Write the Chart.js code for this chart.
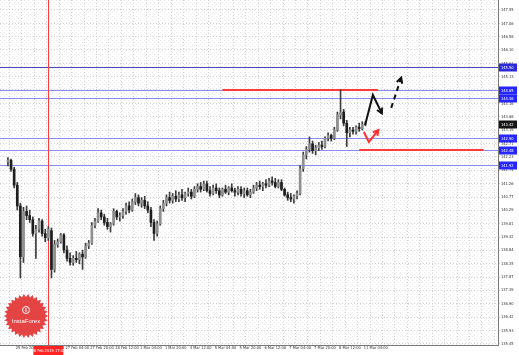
<!DOCTYPE html>
<html>
<head>
<meta charset="utf-8">
<script src="https://cdn.jsdelivr.net/npm/chart.js@4.4.1/dist/chart.umd.min.js"></script>
<style>
  html, body { margin: 0; padding: 0; background: #fff; }
  #wrap { width: 519px; height: 355px; }
</style>
</head>
<body>
<div id="wrap"><canvas id="chart" width="519" height="355"></canvas></div>
<script>
// candles, one per index (oldest first)
const opens = [142.05,142.10,141.78,141.20,140.45,138.60,140.25,140.10,139.95,139.45,
  139.60,139.90,139.45,139.30,139.55,138.15,139.05,139.15,139.40,138.85,
  138.55,138.40,138.55,138.50,138.70,138.60,139.00,139.10,139.75,139.90,
  140.20,140.05,139.85,139.70,139.80,140.25,140.05,140.10,140.25,140.45,
  140.30,140.60,140.75,140.55,140.65,140.45,140.30,139.85,139.45,139.80,
  140.35,140.55,140.75,140.65,140.80,140.70,140.85,140.75,140.90,140.95,
  140.80,141.05,141.15,141.05,141.25,141.00,140.90,141.10,141.00,140.85,
  141.05,140.95,141.10,141.00,140.95,141.05,140.90,141.00,140.85,140.95,
  141.10,141.20,141.15,141.25,141.20,141.35,141.30,141.15,141.30,141.05,
  140.85,140.75,140.70,140.80,140.90,141.80,142.30,142.50,142.70,142.45,
  142.55,142.65,142.60,142.90,143.00,142.90,143.20,143.75,143.85,143.45,
  143.10,143.20,143.15,143.30,143.25,143.40];
const highs = [142.20,142.15,141.85,141.30,140.55,140.40,140.45,140.30,140.05,139.75,
  140.00,139.95,139.60,139.70,139.65,139.20,139.25,139.45,139.45,139.00,
  138.75,138.65,138.80,138.75,138.85,139.10,139.20,139.85,140.00,140.35,
  140.30,140.15,140.00,139.85,140.35,140.30,140.20,140.35,140.55,140.60,
  140.70,140.90,140.85,140.75,140.80,140.60,140.40,139.95,139.90,140.45,
  140.65,140.85,140.95,140.90,141.00,140.95,141.05,140.95,141.10,141.05,
  141.15,141.25,141.30,141.35,141.35,141.15,141.20,141.25,141.10,141.10,
  141.20,141.15,141.25,141.10,141.15,141.15,141.10,141.10,141.05,141.20,
  141.30,141.35,141.30,141.40,141.45,141.50,141.45,141.40,141.40,141.10,
  140.95,140.90,140.85,141.00,141.90,142.40,142.60,142.95,142.80,142.65,
  142.75,142.80,142.95,143.10,143.05,143.30,143.85,144.65,143.95,143.55,
  143.30,143.30,143.35,143.45,143.50,143.50];
const lows = [141.90,141.70,141.10,140.30,137.84,138.40,139.95,139.85,139.35,138.55,
  139.50,139.35,139.15,139.20,137.84,138.05,138.95,139.10,138.75,138.45,
  138.30,138.30,138.40,138.35,138.15,138.55,138.90,139.05,139.65,139.85,
  139.95,139.75,139.60,139.50,139.75,139.95,139.90,140.00,140.15,140.20,
  140.25,140.50,140.45,140.40,140.35,140.20,139.70,139.20,139.35,139.75,
  140.25,140.45,140.55,140.55,140.60,140.60,140.65,140.60,140.80,140.70,
  140.75,140.95,140.95,141.00,140.95,140.80,140.85,140.90,140.75,140.80,
  140.90,140.85,140.95,140.80,140.85,140.80,140.75,140.80,140.75,140.90,
  141.00,141.05,141.00,141.10,141.15,141.20,141.10,141.10,141.00,140.80,
  140.65,140.60,140.55,140.70,140.85,141.70,142.15,142.40,142.35,142.30,
  142.45,142.50,142.55,142.80,142.80,142.85,143.15,143.60,143.35,142.60,
  142.95,143.05,143.05,143.15,143.20,143.35];
const closes = [142.10,141.78,141.20,140.45,138.60,140.25,140.10,139.95,139.45,139.60,
  139.90,139.45,139.30,139.60,138.15,139.05,139.15,139.40,138.85,138.55,
  138.40,138.55,138.50,138.70,138.60,139.00,139.10,139.75,139.90,140.20,
  140.05,139.85,139.70,139.80,140.25,140.05,140.10,140.25,140.45,140.30,
  140.60,140.75,140.55,140.65,140.45,140.30,139.85,139.45,139.80,140.35,
  140.55,140.75,140.65,140.80,140.70,140.85,140.75,140.90,140.95,140.80,
  141.05,141.15,141.05,141.25,141.00,140.90,141.10,141.00,140.85,141.05,
  140.95,141.10,141.00,140.95,141.05,140.90,141.00,140.85,140.95,141.10,
  141.20,141.15,141.25,141.20,141.35,141.30,141.15,141.30,141.05,140.85,
  140.75,140.70,140.80,140.90,141.80,142.30,142.50,142.70,142.45,142.55,
  142.65,142.60,142.90,143.00,142.90,143.20,143.75,143.85,143.45,143.10,
  143.20,143.15,143.30,143.25,143.40,143.42];

// axis labels
const xTickText = ['25 Feb 20:00','26 Feb 12:00','27 Feb 04:00','27 Feb 20:00','28 Feb 12:00',
  '1 Mar 04:00','1 Mar 20:00','4 Mar 12:00','5 Mar 04:00','5 Mar 20:00','6 Mar 12:00',
  '7 Mar 04:00','7 Mar 20:00','8 Mar 12:00','11 Mar 04:00'];
const yTicks = [135.45,135.93,136.42,136.90,137.39,137.87,138.35,138.84,139.32,139.81,
  140.29,140.77,141.26,141.74,142.23,142.71,143.19,143.68,144.16,144.65,
  145.13,145.61,146.10,146.58,147.06,147.55];

// drawn objects on the chart
const levels = [145.50, 144.65, 144.36, 142.90, 142.48, 141.92];
const redLevels = [144.65, 142.48];
const redFrom = [69, 113];
const redTo = [119, 153];
const vLineIdx = 13;
const vLineText = '26 Feb 2019 17:00';
const lastPrice = 143.42;
const arrowSolid = { x: [114.9, 117.4, 120.3], y: [143.38, 144.47, 143.80] };
const arrowDash = { x: [123.3, 126.5], y: [144.00, 145.09] };
const arrowRed = { x: [114.5, 116.1, 119.2], y: [143.13, 142.77, 143.20] };

const xMin = -0.5, xMax = 155.6;
const xTickPos = [];
for (let v = 2.5; v < xMax; v += 4) xTickPos.push(v);

const FONT = '"Liberation Sans Narrow", "DejaVu Sans Condensed", "Liberation Sans", sans-serif';
const FSIZE = 4;

function arrowPath(ctx, xs, ys, sx, sy, dash) {
  const px = xs.map(v => sx.getPixelForValue(v));
  const py = ys.map(v => sy.getPixelForValue(v));
  ctx.setLineDash(dash || []);
  ctx.beginPath();
  ctx.moveTo(px[0], py[0]);
  for (let i = 1; i < px.length; i++) ctx.lineTo(px[i], py[i]);
  ctx.stroke();
  ctx.setLineDash([]);
  // arrow head from the last segment
  const n = px.length - 1;
  const ang = Math.atan2(py[n] - py[n - 1], px[n] - px[n - 1]);
  ctx.beginPath();
  ctx.moveTo(px[n] - 6 * Math.cos(ang - 0.5), py[n] - 6 * Math.sin(ang - 0.5));
  ctx.lineTo(px[n], py[n]);
  ctx.lineTo(px[n] - 6 * Math.cos(ang + 0.5), py[n] - 6 * Math.sin(ang + 0.5));
  ctx.stroke();
}

function priceBox(ctx, a, py, bg, text) {
  ctx.fillStyle = bg;
  ctx.fillRect(a.right + 1, py - 4, 18, 8);
  ctx.fillStyle = '#fff';
  ctx.font = FSIZE + 'px ' + FONT;
  ctx.textAlign = 'left';
  ctx.textBaseline = 'middle';
  ctx.fillText(text, a.right + 3, py + 0.5);
}

// dotted texture behind the plot
const tex = document.createElement('canvas');
tex.width = 4; tex.height = 4;
const tctx = tex.getContext('2d');
tctx.fillStyle = '#ffffff';
tctx.fillRect(0, 0, 4, 4);
tctx.fillStyle = '#ececec';
tctx.fillRect(0, 0, 1, 1);
tctx.fillRect(2, 2, 1, 1);

const overlay = {
  id: 'overlay',
  beforeDraw(chart) {
    const { ctx, chartArea: a } = chart;
    ctx.save();
    ctx.fillStyle = '#fff';
    ctx.fillRect(0, 0, chart.width, chart.height);
    ctx.fillStyle = ctx.createPattern(tex, 'repeat');
    ctx.fillRect(a.left, a.top, a.right - a.left, a.bottom - a.top);
    ctx.restore();
  },
  beforeDatasetsDraw(chart) {
    const { ctx, chartArea: a, scales: { x, y } } = chart;
    ctx.save();
    ctx.lineWidth = 1;
    levels.forEach((v, i) => {
      const py = Math.round(y.getPixelForValue(v)) + 0.5;
      ctx.strokeStyle = i === 0 ? '#4747b5' : '#8a8af2';
      ctx.beginPath();
      ctx.moveTo(a.left, py);
      ctx.lineTo(a.right, py);
      ctx.stroke();
    });
    const vx = Math.round(x.getPixelForValue(vLineIdx)) + 0.5;
    ctx.strokeStyle = '#ff3b3b';
    ctx.beginPath();
    ctx.moveTo(vx, a.top);
    ctx.lineTo(vx, a.bottom);
    ctx.stroke();
    ctx.lineWidth = 2;
    redLevels.forEach((v, i) => {
      const py = Math.round(y.getPixelForValue(v));
      ctx.beginPath();
      ctx.moveTo(x.getPixelForValue(redFrom[i]), py);
      ctx.lineTo(x.getPixelForValue(redTo[i]), py);
      ctx.stroke();
    });
    ctx.restore();
  },
  afterDraw(chart) {
    const { ctx, chartArea: a, scales: { x, y } } = chart;
    ctx.save();
    // forecast arrows
    ctx.lineWidth = 2;
    ctx.strokeStyle = '#111';
    arrowPath(ctx, arrowSolid.x, arrowSolid.y, x, y);
    arrowPath(ctx, arrowDash.x, arrowDash.y, x, y, [5, 4]);
    ctx.strokeStyle = '#ff3030';
    arrowPath(ctx, arrowRed.x, arrowRed.y, x, y);

    // price labels on the right axis
    levels.forEach((v, i) => {
      priceBox(ctx, a, Math.round(y.getPixelForValue(v)) + 0.5, i === 0 ? '#2b2bd9' : '#2626ff', v.toFixed(2));
    });
    priceBox(ctx, a, Math.round(y.getPixelForValue(lastPrice)) + 0.5, '#151515', lastPrice.toFixed(2));

    // date label of the vertical line
    const vx = x.getPixelForValue(vLineIdx);
    ctx.fillStyle = '#ff2424';
    ctx.fillRect(vx - 15, a.bottom + 1, 30, 9);
    ctx.fillStyle = '#fff';
    ctx.font = FSIZE + 'px ' + FONT;
    ctx.textAlign = 'center';
    ctx.textBaseline = 'middle';
    ctx.fillText(vLineText, vx, a.bottom + 5.5);

    // logo badge
    const cx = 26, cy = 316, r = 22, n = 30;
    ctx.beginPath();
    for (let i = 0; i < n * 2; i++) {
      const ang = i * Math.PI / n;
      const rr = i % 2 ? r - 3 : r;
      ctx.lineTo(cx + rr * Math.cos(ang), cy + rr * Math.sin(ang));
    }
    ctx.closePath();
    ctx.fillStyle = 'rgba(226,48,48,0.9)';
    ctx.fill();
    ctx.strokeStyle = '#fff';
    ctx.lineWidth = 1;
    ctx.beginPath();
    ctx.arc(cx, cy - 6, 3.5, 0, Math.PI * 2);
    ctx.stroke();
    ctx.fillStyle = '#fff';
    ctx.fillRect(cx - 0.5, cy - 8, 1, 4);
    ctx.font = '6px "Liberation Sans", sans-serif';
    ctx.textAlign = 'center';
    ctx.textBaseline = 'middle';
    ctx.fillText('InstaForex', cx, cy + 5);
    ctx.restore();
  }
};

const idx = opens.map((o, i) => i);

new Chart(document.getElementById('chart').getContext('2d'), {
  type: 'bar',
  data: {
    datasets: [
      {
        label: 'wick',
        data: idx.map(i => ({ x: i, y: [lows[i], highs[i]] })),
        backgroundColor: '#3c3c3c',
        barThickness: 1,
        grouped: false,
        order: 2
      },
      {
        label: 'body',
        data: idx.map(i => ({ x: i, y: [Math.min(opens[i], closes[i]), Math.max(opens[i], closes[i])] })),
        backgroundColor: ctx => closes[ctx.dataIndex] >= opens[ctx.dataIndex] ? '#8f8f8f' : '#1e1e1e',
        barThickness: 2,
        minBarLength: 1,
        grouped: false,
        order: 1
      }
    ]
  },
  options: {
    responsive: false,
    animation: false,
    events: [],
    layout: { padding: 0 },
    plugins: { legend: { display: false }, tooltip: { enabled: false } },
    scales: {
      x: {
        type: 'linear',
        min: xMin,
        max: xMax,
        afterBuildTicks: s => { s.ticks = xTickPos.map(v => ({ value: v })); },
        afterFit: s => { s.height = 10; s.paddingLeft = 0; s.paddingRight = 0; },
        ticks: {
          autoSkip: false,
          maxRotation: 0,
          align: 'start',
          padding: 1,
          color: '#333',
          font: { family: FONT, size: FSIZE },
          callback: (v, i) => (i % 2 === 0 && xTickText[i / 2]) ? xTickText[i / 2] : ''
        },
        grid: { color: '#d4d4d4', drawTicks: false },
        border: { color: '#7a7a7a', dash: [1, 2] }
      },
      y: {
        position: 'right',
        min: 135.41,
        max: 147.91,
        afterBuildTicks: s => { s.ticks = yTicks.map(v => ({ value: v })); },
        afterFit: s => { s.width = 21; s.paddingTop = 0; s.paddingBottom = 0; },
        ticks: {
          autoSkip: false,
          padding: 1,
          color: '#333',
          font: { family: FONT, size: FSIZE },
          callback: v => v.toFixed(2)
        },
        grid: { color: '#d4d4d4', tickLength: 2 },
        border: { color: '#7a7a7a', dash: [1, 2] }
      }
    }
  },
  plugins: [overlay]
});
</script>
</body>
</html>
